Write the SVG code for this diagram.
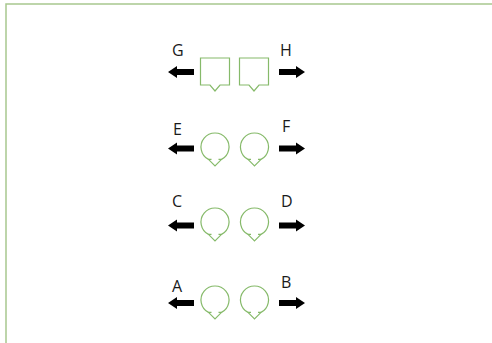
<svg xmlns="http://www.w3.org/2000/svg" width="492" height="343" viewBox="0 0 492 343">
  <style>
    .frame { fill: none; stroke: #a8c88e; stroke-width: 1.5; }
    .callout { fill: #ffffff; stroke: #86ba6a; stroke-width: 1.2; stroke-linejoin: miter; }
    .tick { fill: none; stroke: #86ba6a; stroke-width: 1.2; }
    .arrow { fill: #000000; }
    .lbl { font-family: "Open Sans", "Liberation Sans", Arial, sans-serif; font-size: 16px; fill: #1a1a1a; }
  </style>
  <defs>
    <path id="leftArrow" d="M0,0 L9,-6 L9,-3 L26,-3 L26,3 L9,3 L9,6 Z"/>
    <path id="rightArrow" d="M0,0 L-9,-6 L-9,-3 L-26,-3 L-26,3 L-9,3 L-9,6 Z"/>
    <path id="sqCallout" d="M-14.5,-13.5 L14.5,-13.5 L14.5,13.5 L5,13.5 L0,19.5 L-5,13.5 L-14.5,13.5 Z"/>
    <g id="circCallout">
      <path d="M-6.5,12.4 A14,14 0 1 1 6.5,12.4 L0,19 Z"/>
      <path class="tick" d="M-6.5,12.4 L-3.5,12.4 M6.5,12.4 L3.5,12.4"/>
    </g>
  </defs>
  <rect width="492" height="343" fill="#ffffff"/>
  <path class="frame" d="M6,343 L6,4 L492,4"/>

  <g id="row-GH">
    <g id="arrow-G"><use href="#leftArrow" class="arrow" x="168" y="72"/></g>
    <g id="node-G1"><use href="#sqCallout" class="callout" x="215" y="71.5"/></g>
    <g id="node-H1"><use href="#sqCallout" class="callout" x="254" y="71.5"/></g>
    <g id="arrow-H"><use href="#rightArrow" class="arrow" x="305" y="72"/></g>
    <text class="lbl" x="172" y="56">G</text>
    <text class="lbl" x="280" y="56">H</text>
  </g>

  <g id="row-EF">
    <g id="arrow-E"><use href="#leftArrow" class="arrow" x="168" y="148.5"/></g>
    <g id="node-E1"><use href="#circCallout" class="callout" x="215" y="147"/></g>
    <g id="node-F1"><use href="#circCallout" class="callout" x="254.5" y="147"/></g>
    <g id="arrow-F"><use href="#rightArrow" class="arrow" x="305" y="148.5"/></g>
    <text class="lbl" x="173" y="135">E</text>
    <text class="lbl" x="282" y="132">F</text>
  </g>

  <g id="row-CD">
    <g id="arrow-C"><use href="#leftArrow" class="arrow" x="168" y="225.5"/></g>
    <g id="node-C1"><use href="#circCallout" class="callout" x="215" y="222"/></g>
    <g id="node-D1"><use href="#circCallout" class="callout" x="254.5" y="222"/></g>
    <g id="arrow-D"><use href="#rightArrow" class="arrow" x="305" y="225.5"/></g>
    <text class="lbl" x="172" y="207">C</text>
    <text class="lbl" x="281" y="207">D</text>
  </g>

  <g id="row-AB">
    <g id="arrow-A"><use href="#leftArrow" class="arrow" x="168" y="303"/></g>
    <g id="node-A1"><use href="#circCallout" class="callout" x="215" y="300"/></g>
    <g id="node-B1"><use href="#circCallout" class="callout" x="254.5" y="300"/></g>
    <g id="arrow-B"><use href="#rightArrow" class="arrow" x="305" y="303"/></g>
    <text class="lbl" x="172" y="292">A</text>
    <text class="lbl" x="281" y="288">B</text>
  </g>
</svg>
